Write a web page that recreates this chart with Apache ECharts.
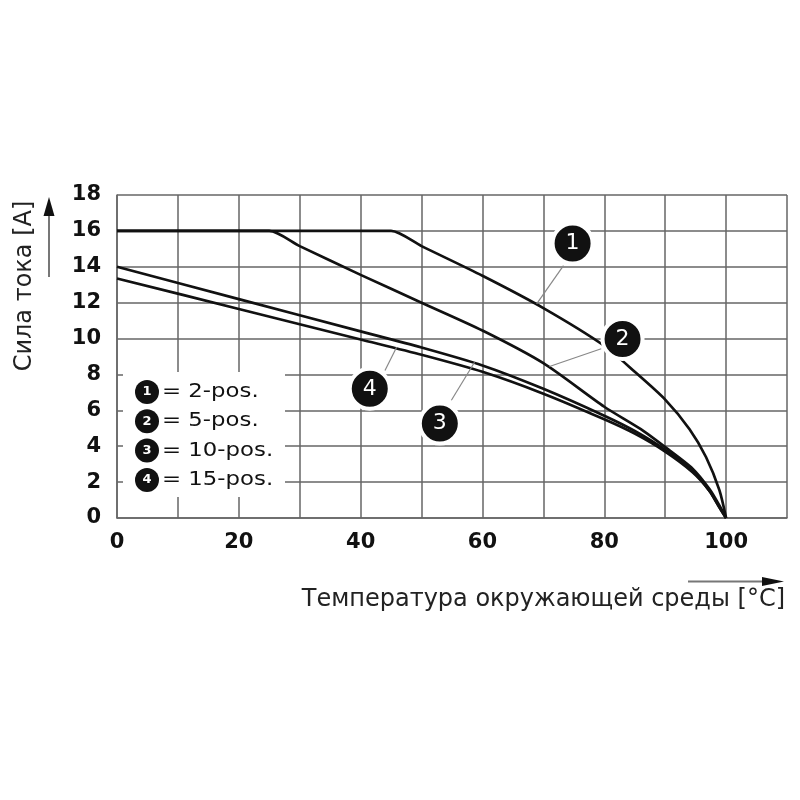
<!DOCTYPE html>
<html>
<head>
<meta charset="utf-8">
<script src="https://cdn.jsdelivr.net/npm/echarts@6/dist/echarts.min.js"></script>
<style>
  html, body { margin: 0; padding: 0; background: #fff; }
  #chart { width: 800px; height: 800px; }
</style>
</head>
<body>
<div id="chart"></div>
<script>
// derating curves: [temperature, current]
const curve1 = [[0, 16], [45, 16], [50, 15.15], [60, 13.5], [70, 11.7], [80, 9.6], [85, 8.15], [90, 6.6], [94, 4.95], [96.7, 3.4], [98.9, 1.55], [100, 0]];
const curve2 = [[0, 16], [25, 16], [30, 15.15], [40, 13.55], [50, 12.0], [60, 10.45], [70, 8.63], [80, 6.2], [86, 4.95], [90, 3.95], [94.5, 2.75], [97.3, 1.6], [98.9, 0.7], [100, 0]];
const curve3 = [[0, 14.0], [20, 12.2], [40, 10.4], [50, 9.5], [60, 8.5], [70, 7.2], [80, 5.7], [85, 4.85], [90, 3.8], [94.5, 2.6], [97.3, 1.5], [98.9, 0.6], [100, 0]];
const curve4 = [[0, 13.35], [20, 11.65], [40, 9.95], [50, 9.1], [60, 8.15], [70, 6.93], [80, 5.5], [85, 4.7], [90, 3.7], [94.5, 2.55], [97.3, 1.5], [98.9, 0.6], [100, 0]];

const xLabelValues = [0, 20, 40, 60, 80, 100];
const legendNames = ['2-pos.', '5-pos.', '10-pos.', '15-pos.'];

// numbered markers on the curves and their leader lines
const markerNames = ['1', '2', '3', '4'];
const markerPoints = [[74.8, 15.3], [83.0, 9.98], [53.0, 5.26], [41.5, 7.2]];
const leaderLines = [
  [[73.3, 14.06], [68.9, 11.93]],
  [[79.5, 9.43], [71.0, 8.44]],
  [[54.9, 6.56], [58.7, 8.68]],
  [[44.0, 8.22], [45.9, 9.52]]
];

const FONT = 'DejaVu Sans';
const chart = echarts.init(document.getElementById('chart'));

function curveSeries(data) {
  return {
    type: 'line',
    data: data,
    smooth: 0.25,
    showSymbol: false,
    z: 2,
    lineStyle: { color: '#111', width: 2.7 }
  };
}

const legendGraphics = [{
  type: 'rect', z: 100,
  shape: { x: 123, y: 372, width: 162, height: 125 },
  style: { fill: '#fff' }
}];
legendNames.forEach((name, i) => {
  const cy = 392 + i * 29.3;
  legendGraphics.push({
    type: 'circle', z: 101,
    shape: { cx: 147, cy: cy, r: 12 },
    style: { fill: '#111' }
  });
  legendGraphics.push({
    type: 'text', z: 102, x: 147, y: cy,
    style: { text: String(i + 1), fill: '#fff', fontSize: 13, fontWeight: 'bold', fontFamily: FONT,
             align: 'center', verticalAlign: 'middle', textAlign: 'center', textVerticalAlign: 'middle' }
  });
  legendGraphics.push({
    type: 'text', z: 102, x: 162, y: cy, scaleX: 1.2,
    style: { text: '= ' + name, fill: '#111', fontSize: 19, fontFamily: FONT,
             align: 'left', verticalAlign: 'middle', textAlign: 'left', textVerticalAlign: 'middle' }
  });
});

const option = {
  backgroundColor: '#fff',
  animation: false,
  grid: { left: 117, right: 13, top: 195, bottom: 282, containLabel: false },
  xAxis: {
    type: 'value', min: 0, max: 110, interval: 10,
    axisLine: { show: true, lineStyle: { color: '#666', width: 1.5 } },
    axisTick: { show: false },
    splitLine: { show: true, lineStyle: { color: '#666', width: 1.5 } },
    axisLabel: {
      margin: 14, color: '#111', fontSize: 21, fontWeight: 'bold', fontFamily: FONT,
      formatter: v => xLabelValues.includes(v) ? String(v) : ''
    }
  },
  yAxis: {
    type: 'value', min: 0, max: 18, interval: 2,
    axisLine: { show: true, lineStyle: { color: '#666', width: 1.5 } },
    axisTick: { show: false },
    splitLine: { show: true, lineStyle: { color: '#666', width: 1.5 } },
    axisLabel: { margin: 16, color: '#111', fontSize: 21, fontWeight: 'bold', fontFamily: FONT }
  },
  series: [
    curveSeries(curve1),
    curveSeries(curve2),
    curveSeries(curve3),
    curveSeries(curve4),
    {
      type: 'lines',
      coordinateSystem: 'cartesian2d',
      z: 3,
      lineStyle: { color: '#888', width: 1.2, opacity: 1 },
      data: leaderLines.map(c => ({ coords: c }))
    },
    {
      type: 'scatter',
      z: 4,
      symbol: 'circle',
      symbolSize: 40,
      itemStyle: { color: '#111', borderColor: '#fff', borderWidth: 4, opacity: 1 },
      label: {
        show: true, position: 'inside', formatter: p => p.name,
        color: '#fff', fontSize: 22, fontFamily: FONT
      },
      data: markerPoints.map((p, i) => ({ name: markerNames[i], value: p }))
    }
  ],
  graphic: [
    ...legendGraphics,
    {
      type: 'text', z: 100, x: 25, y: 286, rotation: Math.PI / 2,
      style: { text: 'Сила тока [A]', fill: '#222', fontSize: 24, fontFamily: FONT,
               align: 'center', verticalAlign: 'middle', textAlign: 'center', textVerticalAlign: 'middle' }
    },
    {
      type: 'line', z: 100,
      shape: { x1: 49, y1: 277, x2: 49, y2: 212 },
      style: { stroke: '#777', lineWidth: 2 }
    },
    {
      type: 'polygon', z: 100,
      shape: { points: [[49, 197], [43.5, 216], [54.5, 216]] },
      style: { fill: '#111' }
    },
    {
      type: 'text', z: 100, x: 785, y: 600,
      style: { text: 'Температура окружающей среды [°C]', fill: '#222', fontSize: 24, fontFamily: FONT,
               align: 'right', verticalAlign: 'middle', textAlign: 'right', textVerticalAlign: 'middle' }
    },
    {
      type: 'line', z: 100,
      shape: { x1: 688, y1: 581.5, x2: 764, y2: 581.5 },
      style: { stroke: '#777', lineWidth: 2 }
    },
    {
      type: 'polygon', z: 100,
      shape: { points: [[784, 581.5], [762, 577], [762, 586]] },
      style: { fill: '#111' }
    }
  ]
};

chart.setOption(option);
</script>
</body>
</html>
